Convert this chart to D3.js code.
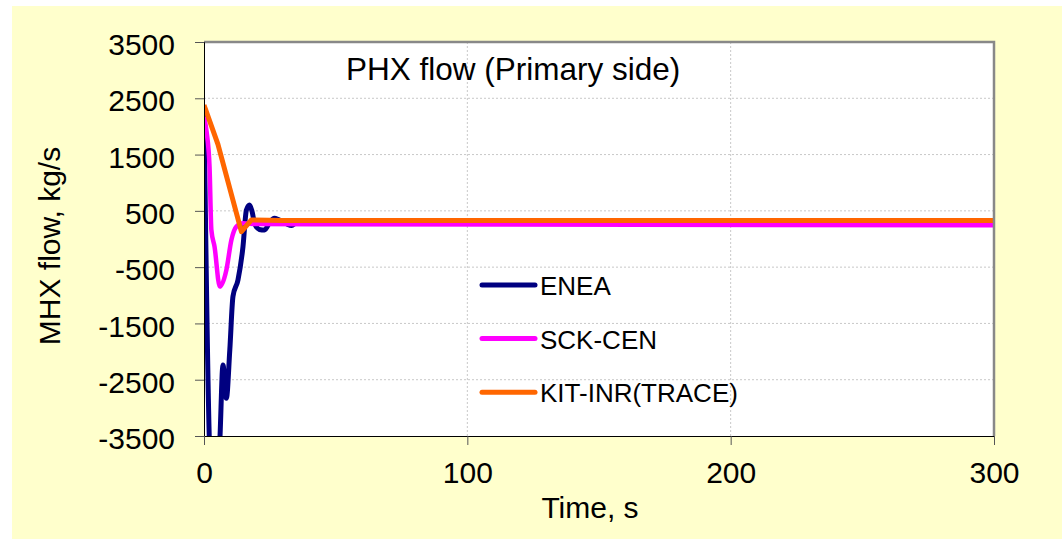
<!DOCTYPE html>
<html>
<head>
<meta charset="utf-8">
<script src="https://cdn.jsdelivr.net/npm/d3@7"></script>
<style>
  body { margin: 0; background: #fff; }
  text { font-family: "Liberation Sans", Arial, sans-serif; fill: #000; }
</style>
</head>
<body>
<div id="chart"></div>
<script>
// time [s], flow [kg/s]
const enea = [
  [0, 2350], [2.2, -3800], [4, -4800], [6, -3600], [7.2, -2240], [8.5, -2830],
  [9.8, -1970], [11, -1020], [12.9, -727], [14.8, -136], [16.1, 516], [17.3, 605],
  [18.2, 500], [19.2, 280], [21, 170], [23, 160], [25, 300], [26.7, 370],
  [28.5, 340], [30.1, 310], [31.8, 260], [33.3, 240], [35, 290], [40, 310],
  [60, 320], [300, 325]
]
const sckcen = [
  [0, 2170], [1, 1900], [2.1, 1285], [2.8, 160], [4, -136], [6, -846],
  [8.5, -550], [10.4, -17], [12.3, 220], [14.8, 280], [20, 265], [40, 260],
  [300, 245]
]
const kit = [
  [0, 2380], [5.3, 1680], [14.2, 131], [18, 338], [30, 330], [100, 330], [300, 330]
]
const seriesNames = ['ENEA', 'SCK-CEN', 'KIT-INR(TRACE)']
const xTicks = [0, 100, 200, 300]
const yTicks = [-3500, -2500, -1500, -500, 500, 1500, 2500, 3500]

const W = 1062, H = 539
const mLeft = 204, mRight = 994, mTop = 42, mBottom = 436

const svg = d3.select('#chart').append('svg')
  .attr('width', W).attr('height', H)

// yellow chart area
svg.append('rect')
  .attr('x', 12).attr('y', 6).attr('width', W - 12).attr('height', H - 6)
  .attr('fill', '#ffffcc')

const x = d3.scaleLinear().domain([0, 300]).range([mLeft, mRight])
const y = d3.scaleLinear().domain([-3500, 3500]).range([mBottom, mTop])

svg.append('rect')
  .attr('x', mLeft).attr('y', mTop)
  .attr('width', mRight - mLeft).attr('height', mBottom - mTop)
  .attr('fill', '#fff')

// dotted grid
const grid = svg.append('g').attr('class', 'grid')
grid.selectAll('line.h')
  .data(yTicks.slice(1, -1))
  .enter().append('line').attr('class', 'h')
  .attr('x1', mLeft).attr('x2', mRight)
  .attr('y1', d => y(d)).attr('y2', d => y(d))
grid.selectAll('line.v')
  .data(xTicks.slice(1, -1))
  .enter().append('line').attr('class', 'v')
  .attr('x1', d => x(d)).attr('x2', d => x(d))
  .attr('y1', mTop).attr('y2', mBottom)
grid.selectAll('line')
  .attr('stroke', '#c8c8c8')
  .attr('stroke-width', 1)
  .attr('stroke-dasharray', '2,2')

svg.append('clipPath').attr('id', 'clip')
  .append('rect')
  .attr('x', mLeft).attr('y', mTop)
  .attr('width', mRight - mLeft).attr('height', mBottom - mTop)

const lines = [
  { name: seriesNames[0], data: enea, color: '#000080', width: 5, curve: d3.curveMonotoneX },
  { name: seriesNames[1], data: sckcen, color: '#ff00ff', width: 4.5, curve: d3.curveMonotoneX },
  { name: seriesNames[2], data: kit, color: '#ff6600', width: 5, curve: d3.curveLinear }
]

const plot = svg.append('g').attr('clip-path', 'url(#clip)')
lines.forEach(s => {
  plot.append('path')
    .datum(s.data)
    .attr('fill', 'none')
    .attr('stroke', s.color)
    .attr('stroke-width', s.width)
    .attr('stroke-linejoin', 'round')
    .attr('d', d3.line().x(d => x(d[0])).y(d => y(d[1])).curve(s.curve))
})

// plot border (grey top / right)
svg.append('path')
  .attr('d', `M${mLeft},${mTop}H${mRight}V${mBottom}`)
  .attr('fill', 'none')
  .attr('stroke', '#888')
  .attr('stroke-width', 2.5)

// axes, plain numbers with ascii minus
const fmt = d => String(d)
const yAxis = svg.append('g')
  .attr('transform', `translate(${mLeft},0)`)
  .call(d3.axisLeft(y).tickValues(yTicks).tickSize(9).tickPadding(20).tickFormat(fmt))
yAxis.select('.domain').attr('stroke', '#000')
yAxis.selectAll('.tick line').attr('stroke', '#555')
yAxis.selectAll('text')
  .attr('dy', '0.42em')
  .style('font-size', '30px')
  .style('font-family', '"Liberation Sans", Arial, sans-serif')

const xAxis = svg.append('g')
  .attr('transform', `translate(0,${mBottom})`)
  .call(d3.axisBottom(x).tickValues(xTicks).tickSize(9).tickPadding(17).tickFormat(fmt))
xAxis.select('.domain').attr('stroke', '#000')
xAxis.selectAll('.tick line').attr('stroke', '#555')
xAxis.selectAll('text')
  .style('font-size', '30px')
  .style('font-family', '"Liberation Sans", Arial, sans-serif')

// titles
svg.append('text')
  .attr('x', 346).attr('y', 80)
  .style('font-size', '31.5px')
  .text('PHX flow (Primary side)')

svg.append('text')
  .attr('x', 590).attr('y', 518)
  .attr('text-anchor', 'middle')
  .style('font-size', '30px')
  .text('Time, s')

svg.append('text')
  .attr('transform', 'translate(60,246) rotate(-90)')
  .attr('text-anchor', 'middle')
  .style('font-size', '30px')
  .text('MHX flow, kg/s')

// legend
const legend = svg.append('g').attr('class', 'legend')
  .selectAll('g')
  .data(lines)
  .enter().append('g')
  .attr('transform', (d, i) => `translate(482,${285 + i * 53.6})`)
legend.append('line')
  .attr('x1', 0).attr('x2', 53)
  .attr('stroke', d => d.color)
  .attr('stroke-width', 5)
  .attr('stroke-linecap', 'round')
legend.append('text')
  .attr('x', 58).attr('y', 10)
  .style('font-size', '26px')
  .text(d => d.name)
</script>
</body>
</html>
